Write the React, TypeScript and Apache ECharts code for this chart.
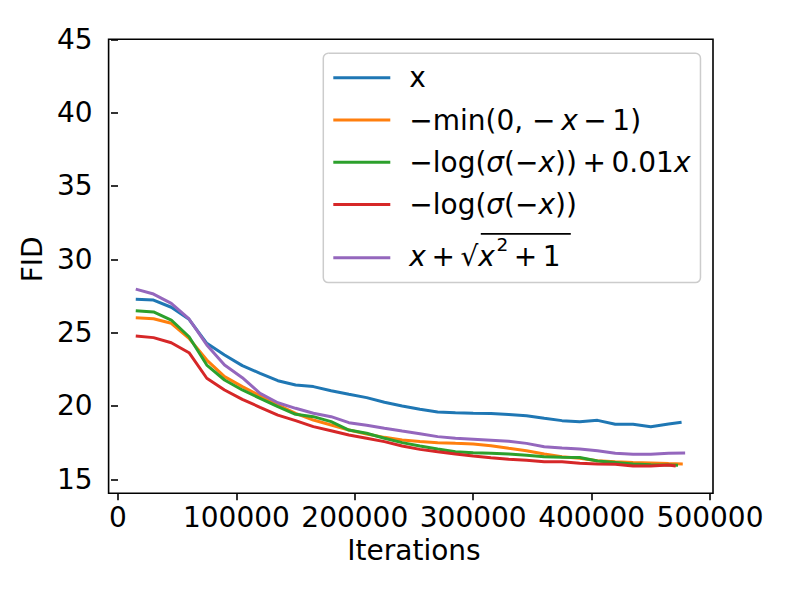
import { useEffect, useRef } from "react";
import * as echarts from "echarts";

const iterations = [
  15000, 30000, 45000, 60000, 75000, 90000, 105000, 120000, 135000, 150000,
  165000, 180000, 195000, 210000, 225000, 240000, 255000, 270000, 285000, 300000,
  315000, 330000, 345000, 360000, 375000, 390000, 405000, 420000, 435000, 450000,
  465000,
];
// last evaluation iteration of each run (same order as seriesNames)
const finalIterations = [476000, 477000, 473000, 471000, 479000];

const seriesNames = [
  "x",
  "−min(0, −x − 1)",
  "−log(σ(−x)) + 0.01x",
  "−log(σ(−x))",
  "x + √(x² + 1)",
];
const seriesColors = ["#1f77b4", "#ff7f0e", "#2ca02c", "#d62728", "#9467bd"];

const fidIdentity = [
  27.27, 27.22, 26.73, 25.91, 24.27, 23.48, 22.75, 22.23, 21.72, 21.43, 21.32,
  21.04, 20.8, 20.57, 20.25, 20.0, 19.77, 19.59, 19.54, 19.5, 19.48, 19.41,
  19.34, 19.16, 19.0, 18.93, 19.02, 18.75, 18.75, 18.59, 18.77, 18.89,
];
const fidHinge = [
  26.02, 25.95, 25.64, 24.61, 23.13, 22.0, 21.32, 20.7, 20.07, 19.5, 19.04,
  18.7, 18.36, 18.09, 17.86, 17.68, 17.57, 17.5, 17.45, 17.41, 17.29, 17.11,
  16.95, 16.72, 16.54, 16.43, 16.27, 16.2, 16.15, 16.11, 16.07, 16.05,
];
const fidLogSigmoidLinear = [
  26.5, 26.41, 25.86, 24.72, 22.79, 21.77, 21.09, 20.52, 19.95, 19.43, 19.27,
  18.93, 18.36, 18.14, 17.8, 17.5, 17.27, 17.07, 16.88, 16.81, 16.77, 16.73,
  16.64, 16.54, 16.5, 16.48, 16.25, 16.15, 16.04, 16.0, 15.98, 15.95,
];
const fidLogSigmoid = [
  24.77, 24.66, 24.31, 23.63, 21.89, 21.09, 20.45, 19.91, 19.38, 19.0, 18.59,
  18.31, 18.02, 17.8, 17.57, 17.27, 17.04, 16.88, 16.73, 16.59, 16.47, 16.36,
  16.3, 16.2, 16.2, 16.09, 16.04, 16.02, 15.91, 15.91, 15.98, 15.91,
];
const fidSqrt = [
  27.97, 27.63, 27.0, 25.93, 24.16, 22.79, 21.93, 20.86, 20.22, 19.84, 19.5,
  19.27, 18.86, 18.68, 18.48, 18.29, 18.11, 17.91, 17.8, 17.73, 17.66, 17.59,
  17.45, 17.22, 17.13, 17.07, 16.95, 16.77, 16.7, 16.7, 16.77, 16.79,
];
const seriesValues = [fidIdentity, fidHinge, fidLogSigmoidLinear, fidLogSigmoid, fidSqrt];

const TS = "\u2009"; // thin space
const legendRich = [
  "{n24|x}",
  `{n|−min(0, −${TS}}{i|x}{n|${TS}−${TS}1)}`,
  `{n|−log(}{i|σ}{n|(−}{i|x}{n|))${TS}+${TS}0.01}{i|x}`,
  "{n|−log(}{i|σ}{n|(−}{i|x}{n|))}",
  `{gap| }{bar| }\n{i5|x}{n5|${TS}+${TS}√}{i5|x}{sup|2}{n5|${TS}+${TS}1}\n{e| }`,
];

const FONT = "DejaVu Sans";

export default function App() {
  const ref = useRef<HTMLDivElement>(null);
  useEffect(() => {
    if (!ref.current) return;
    const chart = echarts.init(ref.current, null, { renderer: "svg" });
    const series = seriesNames.map((name, s) => ({
      name,
      type: "line",
      symbol: "none",
      data: iterations
        .map((it, i) => [it, seriesValues[s][i]])
        .concat([[finalIterations[s], seriesValues[s][iterations.length]]]),
      lineStyle: { color: seriesColors[s], width: 3 },
      itemStyle: { color: seriesColors[s] },
      z: 2,
    }));
    const txt = { fontFamily: FONT, fontSize: 28, color: "#000" };
    chart.setOption({
      animation: false,
      backgroundColor: "#fff",
      grid: { left: 118, right: 79, top: 39.3, bottom: 112.7, containLabel: false },
      xAxis: {
        type: "value",
        min: 0,
        max: 500000,
        interval: 100000,
        offset: 14,
        axisLine: { show: false },
        axisTick: { show: true, length: 7, lineStyle: { color: "#000", width: 1.6 } },
        axisLabel: { ...txt, margin: 10, formatter: (v: number) => String(v) },
        splitLine: { show: false },
        name: "Iterations",
        nameLocation: "middle",
        nameGap: 43,
        nameTextStyle: txt,
      },
      yAxis: {
        type: "value",
        min: 15,
        max: 45,
        interval: 5,
        offset: 9.4,
        axisLine: { show: false },
        axisTick: { show: true, length: 7, lineStyle: { color: "#000", width: 1.6 } },
        axisLabel: { ...txt, margin: 16 },
        splitLine: { show: false },
        name: "FID",
        nameLocation: "middle",
        nameGap: 52,
        nameTextStyle: txt,
      },
      legend: {
        orient: "vertical",
        left: 323.3,
        top: 53.3,
        itemWidth: 57,
        itemHeight: 24,
        itemGap: 14.3,
        padding: [10.4, 10, 0.3, 10],
        backgroundColor: "rgba(255,255,255,0.8)",
        borderColor: "#cccccc",
        borderWidth: 1.5,
        borderRadius: 5,
        icon: "path://M0 0H57V3H0Z",
        selectedMode: false,
        data: seriesNames,
        formatter: (name: string) => legendRich[seriesNames.indexOf(name)],
        textStyle: {
          ...txt,
          padding: [0, 0, 0, 14],
          rich: {
            n: { ...txt, lineHeight: 28 },
            i: { ...txt, fontStyle: "italic", lineHeight: 28 },
            n24: { ...txt, lineHeight: 24 },
            n5: { ...txt, lineHeight: 42.6 },
            i5: { ...txt, fontStyle: "italic", lineHeight: 42.6 },
            sup: {
              fontFamily: FONT,
              fontSize: 18.5,
              color: "#000",
              lineHeight: 28.6,
              verticalAlign: "top",
              padding: [0, 0, 0, 1.5],
            },
            gap: { fontFamily: FONT, fontSize: 2, width: 71.5, height: 1.6, lineHeight: 2.4 },
            bar: {
              fontFamily: FONT,
              fontSize: 2,
              width: 90,
              height: 1.6,
              lineHeight: 2.4,
              backgroundColor: "#000",
            },
            e: { fontFamily: FONT, fontSize: 4, lineHeight: 5.2 },
          },
        },
      },
      graphic: [
        {
          type: "rect",
          silent: true,
          z: 10,
          shape: { x: 108.6, y: 39.3, width: 604.4, height: 454 },
          style: { fill: "none", stroke: "#000", lineWidth: 1.6 },
        },
      ],
      series,
    });
    return () => chart.dispose();
  }, []);
  return (
    <div
      ref={ref}
      style={{ position: "fixed", left: 0, top: 0, width: 789, height: 592 }}
    />
  );
}
